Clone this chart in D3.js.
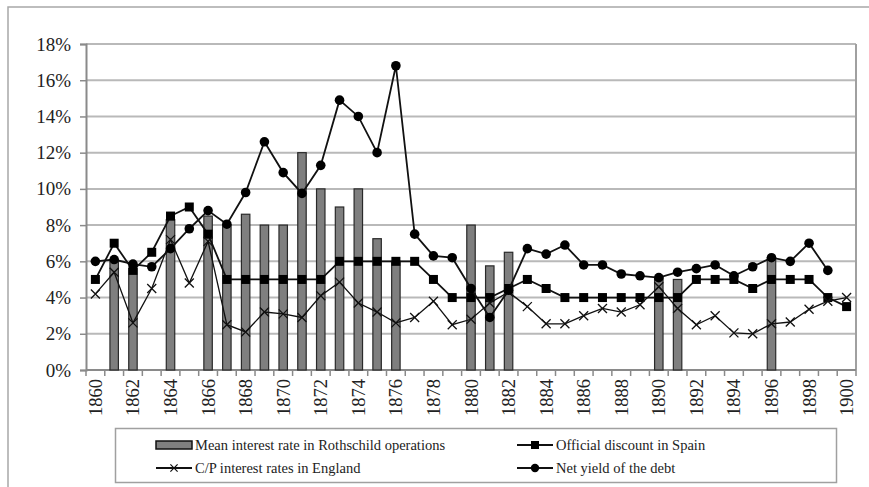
<!DOCTYPE html>
<html>
<head>
<meta charset="utf-8">
<script src="https://cdn.jsdelivr.net/npm/d3@7"></script>
<style>
  html, body { margin: 0; padding: 0; background: #fff; }
  svg { display: block; }
  svg text { font-family: "Liberation Serif", "Times New Roman", serif; }
</style>
</head>
<body>
<svg id="chart" width="869" height="487"></svg>
<script>
// Years on the category axis
const years = [1860,1861,1862,1863,1864,1865,1866,1867,1868,1869,1870,1871,1872,1873,1874,1875,
  1876,1877,1878,1879,1880,1881,1882,1883,1884,1885,1886,1887,1888,1889,1890,1891,1892,1893,
  1894,1895,1896,1897,1898,1899,1900];

// Mean interest rate in Rothschild operations (%), null = no operation that year
const rothschild = [null,6.0,5.6,null,8.3,null,8.5,8.0,8.6,8.0,8.0,12.0,10.0,9.0,10.0,7.25,
  6.0,null,null,null,8.0,5.75,6.5,null,null,null,null,null,null,null,5.1,5.0,null,null,
  null,null,6.2,null,null,null,null];

// Official discount in Spain (%)
const officialDiscount = [5.0,7.0,5.5,6.5,8.5,9.0,7.5,5.0,5.0,5.0,5.0,5.0,5.0,6.0,6.0,6.0,
  6.0,6.0,5.0,4.0,4.0,4.0,4.5,5.0,4.5,4.0,4.0,4.0,4.0,4.0,4.0,4.0,5.0,5.0,
  5.0,4.5,5.0,5.0,5.0,4.0,3.5];

// C/P interest rates in England (%)
const cpEngland = [4.2,5.4,2.6,4.5,7.2,4.8,7.1,2.5,2.1,3.2,3.1,2.9,4.1,4.85,3.7,3.2,
  2.6,2.9,3.8,2.5,2.8,3.7,4.3,3.5,2.55,2.55,3.0,3.4,3.2,3.6,4.6,3.4,2.5,3.0,
  2.05,2.0,2.55,2.65,3.35,3.8,4.0];

// Net yield of the debt (%)
const netYield = [6.0,6.1,5.85,5.7,6.7,7.8,8.8,8.05,9.8,12.6,10.9,9.75,11.3,14.9,14.0,12.0,
  16.8,7.5,6.3,6.2,4.5,2.9,4.4,6.7,6.4,6.9,5.8,5.8,5.3,5.2,5.1,5.4,5.6,5.8,
  5.2,5.7,6.2,6.0,7.0,5.5,null];

const yTicks = [0,2,4,6,8,10,12,14,16,18];

const legendLabels = {
  bars: "Mean interest rate in Rothschild operations",
  official: "Official discount in Spain",
  cp: "C/P interest rates in England",
  net: "Net yield of the debt"
};

const serif = "'Liberation Serif', 'Times New Roman', serif";
const svg = d3.select("#chart");
const plot = { left: 86, right: 856, top: 44, bottom: 370 };

const x = d3.scaleBand().domain(years).range([plot.left, plot.right]).padding(0);
const y = d3.scaleLinear().domain([0, 18]).range([plot.bottom, plot.top]);
const cx = d => x(d) + x.bandwidth() / 2;
const barW = x.bandwidth() * 0.45;

// outer chart frame
svg.append("rect")
  .attr("x", 8).attr("y", 7).attr("width", 900).attr("height", 520)
  .attr("fill", "none").attr("stroke", "#a8a8a8").attr("stroke-width", 1.5);

// horizontal gridlines
svg.append("g").selectAll("line")
  .data(yTicks.filter(t => t > 0))
  .join("line")
  .attr("x1", plot.left).attr("x2", plot.right)
  .attr("y1", d => y(d)).attr("y2", d => y(d))
  .attr("stroke", "#b9b9b9").attr("stroke-width", 2);

// right edge of plot area
svg.append("line")
  .attr("x1", plot.right).attr("x2", plot.right)
  .attr("y1", plot.top).attr("y2", plot.bottom)
  .attr("stroke", "#a0a0a0").attr("stroke-width", 2);

// y axis
const yAxis = d3.axisLeft(y).tickValues(yTicks).tickFormat(d => d + "%").tickSize(6).tickPadding(9);
const gy = svg.append("g").attr("transform", `translate(${plot.left},0)`).call(yAxis)
  .attr("font-family", serif);
gy.select(".domain").attr("stroke", "#8a8a8a").attr("stroke-width", 2);
gy.selectAll(".tick line").attr("stroke", "#8a8a8a").attr("stroke-width", 1.5);
gy.selectAll(".tick text")
  .style("font-family", serif)
  .attr("font-size", 19).attr("fill", "#222");

// x axis: boundary ticks between categories, labels on every other year
const gx = svg.append("g").attr("transform", `translate(0,${plot.bottom})`);
gx.append("line").attr("x1", plot.left).attr("x2", plot.right)
  .attr("stroke", "#8a8a8a").attr("stroke-width", 2);
gx.selectAll("line.tk")
  .data(years.concat([years[years.length - 1] + 1]))
  .join("line").attr("class", "tk")
  .attr("x1", (d, i) => plot.left + i * x.step())
  .attr("x2", (d, i) => plot.left + i * x.step())
  .attr("y1", 0).attr("y2", 6)
  .attr("stroke", "#8a8a8a").attr("stroke-width", 1.5);
gx.selectAll("text")
  .data(years.filter(yr => (yr - 1860) % 2 === 0))
  .join("text")
  .attr("transform", d => `translate(${cx(d) + 6.5},9) rotate(-90)`)
  .attr("text-anchor", "end")
  .style("font-family", serif)
  .attr("font-size", 18.5).attr("fill", "#222")
  .text(d => d);

// Rothschild bars
svg.append("g").selectAll("rect")
  .data(years.map((yr, i) => ({ yr, v: rothschild[i] })).filter(d => d.v != null))
  .join("rect")
  .attr("x", d => cx(d.yr) - barW / 2)
  .attr("y", d => y(d.v))
  .attr("width", barW)
  .attr("height", d => y(0) - y(d.v))
  .attr("fill", "#7f7f7f").attr("stroke", "#2a2a2a").attr("stroke-width", 1.2);

function seriesPoints(vals) {
  return years.map((yr, i) => ({ yr, v: vals[i] })).filter(d => d.v != null);
}
const line = d3.line().x(d => cx(d.yr)).y(d => y(d.v));

function drawLine(vals, width) {
  svg.append("path").datum(seriesPoints(vals))
    .attr("d", line).attr("fill", "none")
    .attr("stroke", "#111").attr("stroke-width", width);
}

// official discount: squares
drawLine(officialDiscount, 1.8);
svg.append("g").selectAll("rect")
  .data(seriesPoints(officialDiscount))
  .join("rect")
  .attr("x", d => cx(d.yr) - 4.5).attr("y", d => y(d.v) - 4.5)
  .attr("width", 9).attr("height", 9).attr("fill", "#000");

// C/P England: crosses
drawLine(cpEngland, 1.3);
const crossPath = "M-4.5,-4.5L4.5,4.5M-4.5,4.5L4.5,-4.5";
svg.append("g").selectAll("path")
  .data(seriesPoints(cpEngland))
  .join("path")
  .attr("transform", d => `translate(${cx(d.yr)},${y(d.v)})`)
  .attr("d", crossPath).attr("stroke", "#111").attr("stroke-width", 1.3).attr("fill", "none");

// net yield: circles
drawLine(netYield, 1.8);
svg.append("g").selectAll("circle")
  .data(seriesPoints(netYield))
  .join("circle")
  .attr("cx", d => cx(d.yr)).attr("cy", d => y(d.v))
  .attr("r", 4.8).attr("fill", "#000");

// legend
const lg = svg.append("g");
lg.append("rect").attr("x", 115.5).attr("y", 428.5).attr("width", 721).attr("height", 54)
  .attr("fill", "#fff").attr("stroke", "#a0a0a0").attr("stroke-width", 1.5);

const items = [
  { key: "bars", x: 156, y: 445 },
  { key: "official", x: 517, y: 445 },
  { key: "cp", x: 156, y: 468 },
  { key: "net", x: 517, y: 468 }
];
items.forEach(it => {
  const g = lg.append("g").attr("transform", `translate(${it.x},${it.y})`);
  if (it.key === "bars") {
    g.append("rect").attr("x", 0).attr("y", -4).attr("width", 36).attr("height", 8)
      .attr("fill", "#7f7f7f").attr("stroke", "#111").attr("stroke-width", 1.5);
  } else {
    g.append("line").attr("x1", 0).attr("x2", 36).attr("y1", 0).attr("y2", 0)
      .attr("stroke", "#111").attr("stroke-width", 2);
    if (it.key === "official") {
      g.append("rect").attr("x", 14).attr("y", -4).attr("width", 8).attr("height", 8).attr("fill", "#000");
    } else if (it.key === "cp") {
      g.append("path").attr("transform", "translate(18,0) scale(0.8)").attr("d", crossPath)
        .attr("stroke", "#111").attr("stroke-width", 1.5);
    } else {
      g.append("circle").attr("cx", 18).attr("cy", 0).attr("r", 4.2).attr("fill", "#000");
    }
  }
  g.append("text").attr("x", 39).attr("y", 5)
    .style("font-family", serif)
    .attr("font-size", 14.5).attr("fill", "#222")
    .text(legendLabels[it.key]);
});
</script>
</body>
</html>
